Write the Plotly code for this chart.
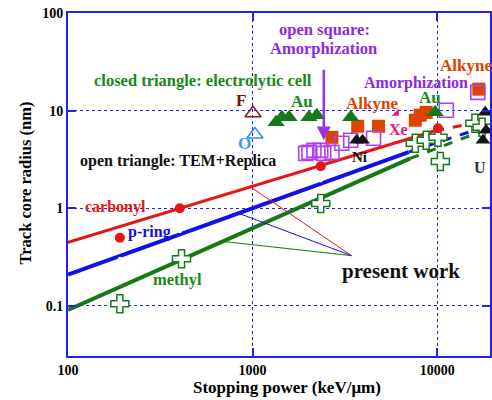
import math
import plotly.graph_objects as go

# ---------------- data ----------------
# fitted track-core-radius lines (solid part, dashed extrapolation)
carbonyl_x = [100, 9750]
carbonyl_y = [0.447, 6.22]
carbonyl_dash_x = [9750, 18800]
carbonyl_dash_y = [6.22, 7.96]

pring_x = [100, 7000]
pring_y = [0.209, 3.76]
pring_dash_x = [7000, 18000]
pring_dash_y = [3.76, 6.8]

methyl_x = [100, 7150]
methyl_y = [0.0912, 3.24]
methyl_dash_x = [7150, 18000]
methyl_dash_y = [3.24, 6.3]

# present-work pointer lines
pw_target = (3435, 0.327)
pw_red = (981, 1.64)
pw_blue = (845, 0.885)
pw_green = (702, 0.456)

# carbonyl data (red dots)
carb_pts_x = [191, 403, 2340, 10100]
carb_pts_y = [0.50, 1.00, 2.69, 6.6]

# p-ring data (white marks on blue line)
pring_pts_x = [191, 403, 2340]
pring_pts_y = [0.305, 0.58, 1.93]

# methyl data (open crosses)
methyl_pts_x = [191, 412, 2340, 7610, 8720, 10100, 10400, 16000, 17500]
methyl_pts_y = [0.105, 0.305, 1.12, 4.63, 4.97, 5.33, 3.02, 7.43, 6.76]

# alkyne (orange filled squares)
alkyne_x = [2690, 3710, 4810, 7610, 8090, 8720, 16800]
alkyne_y = [5.33, 6.92, 6.92, 7.97, 8.97, 9.6, 16.6]

# amorphization (purple open squares)
amorph_x = [1940, 2020, 2150, 2340, 2430, 2690, 3040, 3400, 4520, 11200, 16600]
amorph_y = [3.65, 3.74, 3.92, 3.92, 3.65, 3.74, 4.63, 4.97, 5.21, 10.1, 15.4]

# electrolytic cell Au (green filled triangles)
au_x = [1340, 1440, 1575, 2020, 2230, 3400, 9750]
au_y = [7.6, 8.55, 8.55, 8.55, 8.97, 8.55, 9.6]

# electrolytic cell Ni / U (black filled triangles)
black_x = [3660, 3940, 18200, 18400, 17700]
black_y = [4.97, 4.97, 9.6, 6.3, 4.97]

# TEM+Replica (open triangles)
f_x, f_y = [1005], [9.4]
o_x, o_y = [1030], [5.7]

# Xe marker
xe_x, xe_y = [6010], [9.4]

# ---------------- styles ----------------
FONT = "Liberation Serif"
RED = "#e81515"
BLUE = "#1010e8"
GREEN = "#157a15"
PURPLE = "#8a2be2"
ORANGE = "#dd4400"
AXBLUE = "#2222ee"

fig = go.Figure()

def line(x, y, color, width, dash="solid"):
    fig.add_trace(go.Scatter(x=x, y=y, mode="lines",
                             line=dict(color=color, width=width, dash=dash),
                             hoverinfo="skip"))

line(carbonyl_x, carbonyl_y, RED, 3)
line(carbonyl_dash_x, carbonyl_dash_y, RED, 3, "dash")
line(pring_x, pring_y, BLUE, 4)
line(pring_dash_x, pring_dash_y, BLUE, 3, "dash")
line(methyl_x, methyl_y, GREEN, 4)
line(methyl_dash_x, methyl_dash_y, GREEN, 3, "dash")

for (sx, sy), c in [(pw_red, RED), (pw_blue, BLUE), (pw_green, GREEN)]:
    line([sx, pw_target[0]], [sy, pw_target[1]], c, 1)

def pts(x, y, symbol, size, color, lcolor=None, lwidth=0):
    fig.add_trace(go.Scatter(
        x=x, y=y, mode="markers",
        marker=dict(symbol=symbol, size=size, color=color,
                    line=dict(color=lcolor if lcolor else color, width=lwidth)),
        hoverinfo="skip"))

pts(pring_pts_x, pring_pts_y, "circle", 4, "white")
pts(methyl_pts_x, methyl_pts_y, "cross", 15, "white", GREEN, 1.5)
pts(carb_pts_x, carb_pts_y, "circle", 10, RED)
pts(alkyne_x, alkyne_y, "square", 13, ORANGE)
pts(amorph_x, amorph_y, "square-open", 14, "#b040e8", None, 1.6)
pts(au_x, au_y, "triangle-up", 15, GREEN)
pts(black_x, black_y, "triangle-up", 13, "#151515")
pts(f_x, f_y, "triangle-up-open", 14, "#8b1a1a", None, 1.5)
pts(o_x, o_y, "triangle-up-open", 14, "#3388ff", None, 1.5)
pts(xe_x, xe_y, "triangle-se", 8, "#ee1177")

# ---------------- annotations ----------------
def txt(x, y, text, color, size=14):
    fig.add_annotation(x=math.log10(x), y=math.log10(y), xref="x", yref="y",
                       text=text, showarrow=False,
                       xanchor="center", yanchor="middle",
                       font=dict(family=FONT, size=size, color=color, weight="bold"))

txt(541, 20.5, "closed triangle: electrolytic cell", "#1a881a", 16.5)
txt(392, 3.02, "open triangle: TEM+Replica", "#111111", 16)
txt(2460, 68.5, "open square:", PURPLE, 16.5)
txt(2430, 43.8, "Amorphization", PURPLE, 16.5)
txt(867, 12.8, "F", "#7a1010", 17)
txt(900, 4.6, "O", "#3399ff", 17)
txt(1850, 12.5, "Au", "#1a881a", 17)
txt(9160, 13.5, "Au", "#1a881a", 17)
txt(4410, 11.9, "Alkyne", ORANGE, 17)
txt(14300, 29.2, "Alkyne", ORANGE, 17)
txt(7710, 19.4, "Amorphization", PURPLE, 16)
txt(6170, 6.44, "Xe", "#ee1177", 16)
txt(3800, 3.33, "Ni", "#111111", 15)
txt(17100, 2.62, "U", "#333333", 16)
txt(181, 1.04, "carbonyl", RED, 16)
txt(277, 0.578, "p-ring", BLUE, 16)
txt(392, 0.186, "methyl", "#1a881a", 16.5)
txt(6400, 0.230, "present work", "#111111", 21)

# purple arrow
fig.add_annotation(x=math.log10(2430), y=math.log10(4.97), xref="x", yref="y",
                   ax=0, ay=-72, text="", showarrow=True,
                   arrowhead=2, arrowsize=1.1, arrowwidth=2.5, arrowcolor="#9933dd")

# axis titles
fig.add_annotation(x=0.52, y=-0.093, xref="paper", yref="paper",
                   xanchor="center", yanchor="middle",
                   text="Stopping power (keV/\u03bcm)", showarrow=False,
                   font=dict(family=FONT, size=17, color="black", weight="bold"))
fig.add_annotation(x=-0.101, y=0.504, xref="paper", yref="paper",
                   xanchor="center", yanchor="middle",
                   text="Track core radius (nm)", showarrow=False, textangle=-90,
                   font=dict(family=FONT, size=16.5, color="black", weight="bold"))

axis_common = dict(
    type="log", showline=True, linecolor=AXBLUE, linewidth=2, mirror="ticks",
    ticks="inside", ticklen=8, tickwidth=1.5, tickcolor=AXBLUE,
    showgrid=True, gridcolor=AXBLUE, griddash="dot", gridwidth=1,
    zeroline=False,
    tickfont=dict(family=FONT, size=14, color="black", weight="bold"),
)

fig.update_xaxes(range=[2, 4.286], tickvals=[100, 1000, 10000],
                 ticktext=["100", "1000", "10000"], **axis_common)
fig.update_yaxes(range=[-1.513, 2], tickvals=[0.1, 1, 10, 100],
                 ticktext=["0.1", "1", "10", "100"], **axis_common)

fig.update_layout(
    width=492, height=400,
    margin=dict(l=68, r=0, t=13, b=44),
    plot_bgcolor="white", paper_bgcolor="white",
    showlegend=False,
)

fig.write_html("out.html")
